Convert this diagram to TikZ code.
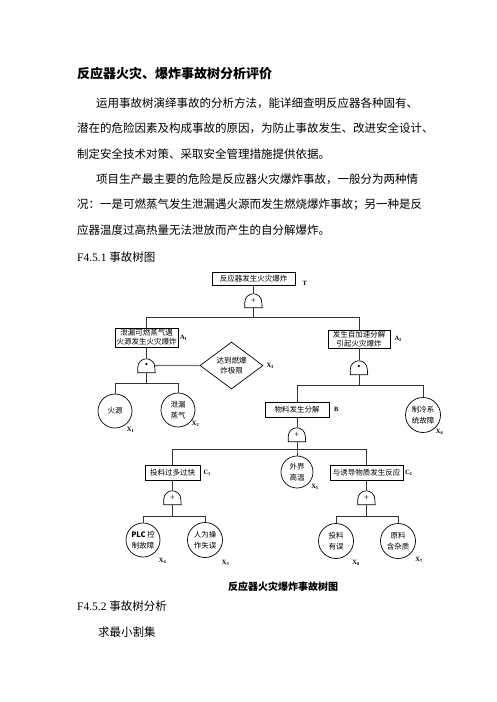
\documentclass[tikz,border=0pt]{standalone}
\usepackage{fontspec}
\setmainfont{Liberation Serif}
\newfontfamily\cjk{Noto Sans CJK SC}
\usetikzlibrary{positioning, shapes.geometric}
\XeTeXlinebreaklocale "zh"
\XeTeXlinebreakskip=0pt plus 2pt minus 1pt
\tikzset{EventBox/.style={%
    shape=rectangle,%
    draw=black,%
    line width=0.7pt,%
    inner sep=1pt,%
    align=center,%
    font=\cjk\fontsize{7.5}{9}\selectfont,%
}}
\tikzset{BasicEvent/.style={%
    shape=circle,%
    draw=black,%
    line width=0.7pt,%
    minimum size=34pt,%
    inner sep=0pt,%
    align=center,%
    font=\cjk\fontsize{7.5}{10.5}\selectfont,%
}}
\tikzset{CondEvent/.style={%
    shape=diamond,%
    draw=black,%
    line width=0.7pt,%
    minimum width=63pt,%
    minimum height=41pt,%
    inner sep=0pt,%
    align=center,%
    font=\cjk\fontsize{7.5}{10}\selectfont,%
}}
\tikzset{GateBox/.style={%
    shape=rectangle,%
    minimum width=17pt,%
    minimum height=14pt,%
    inner sep=0pt,%
    font=\fontsize{9}{9}\selectfont,%
}}
\tikzset{GateLine/.style={%
    draw=black,%
    line width=0.7pt,%
}}
\tikzset{TreeLine/.style={%
    draw=black!80,%
    line width=0.7pt,%
}}
\tikzset{Branch/.style={%
    draw=black!80,%
    line width=0.7pt,%
    to path={(\tikztostart.south) -- ++(0,-#1) -| (\tikztotarget.north)},%
}}
\tikzset{InhibitLine/.style={%
    draw=black!55,%
    line width=1.4pt,%
}}
\tikzset{Tag/.style={%
    inner sep=0pt,%
    font=\fontsize{6.5}{6.5}\selectfont\bfseries,%
}}
\tikzset{TextLine/.style={%
    anchor=west,%
    inner sep=0pt,%
    font=\cjk\fontsize{11.5}{11.5}\selectfont,%
}}
\tikzset{HeadLine/.style={%
    anchor=west,%
    inner sep=0pt,%
    font=\cjk\bfseries\fontsize{13}{13}\selectfont,%
}}
\NewDocumentCommand{\gateNode}{m m m}{%
    \node[GateBox, #2] (#1) {#3};
    \draw[GateLine] (#1.south west) -- ([yshift=5.5pt]#1.south west)
        arc[start angle=180, end angle=0, radius=8.5pt] -- (#1.south east) -- cycle;
}

\begin{document}
\begin{tikzpicture}[x=1pt, y=1pt]
    \useasboundingbox (0,0) rectangle (496,-702);

    % text above the tree
    \node[HeadLine] (title) at (77,-74) {反应器火灾、爆炸事故树分析评价};
    \node[TextLine] (p1a) at (96,-103) {\makebox[326pt][s]{运用事故树演绎事故的分析方法，能详细查明反应器各种固有、}};
    \node[TextLine] (p1b) at (77,-128.5) {\makebox[345pt][s]{潜在的危险因素及构成事故的原因，为防止事故发生、改进安全设计、}};
    \node[TextLine] (p1c) at (77,-154) {制定安全技术对策、采取安全管理措施提供依据。};
    \node[TextLine] (p2a) at (96,-179.5) {\makebox[326pt][s]{项目生产最主要的危险是反应器火灾爆炸事故，一般分为两种情}};
    \node[TextLine] (p2b) at (77,-205) {\makebox[345pt][s]{况：一是可燃蒸气发生泄漏遇火源而发生燃烧爆炸事故；另一种是反}};
    \node[TextLine] (p2c) at (77,-230.5) {应器温度过高热量无法泄放而产生的自分解爆炸。};
    \node[TextLine, font=\fontsize{11.5}{11.5}\selectfont] (sec1) at (77,-257) {F4.5.1 {\cjk 事故树图}};

    % events
    \node[EventBox, minimum width=83pt, minimum height=13pt] (bT) at (253.5,-278.5) {反应器发生火灾爆炸};
    \node[EventBox, minimum width=63pt, minimum height=19pt] (bA1) at (146.5,-337.5) {泄漏可燃蒸气遇\\火源发生火灾爆炸};
    \node[EventBox, minimum width=62pt, minimum height=18pt] (bA2) at (359,-339) {发生自加速分解\\引起火灾爆炸};
    \node[CondEvent] (dX3) at (231.5,-365.5) {达到燃爆\\炸极限};
    \node[BasicEvent] (x1) at (115,-411) {火源};
    \node[BasicEvent] (x2) at (178,-410) {泄漏\\蒸气};
    \node[EventBox, minimum width=64pt, minimum height=15pt] (bB) at (297,-409.5) {物料发生分解};
    \node[BasicEvent, minimum size=35pt] (x6) at (423,-415) {制冷系\\统故障};
    \node[EventBox, minimum width=55pt, minimum height=15pt] (bC1) at (172.5,-472.5) {投料过多过快};
    \node[BasicEvent, minimum size=32pt] (x5) at (297,-472) {外界\\高温};
    \node[EventBox, minimum width=73pt, minimum height=15pt] (bC2) at (366.5,-472.5) {与诱导物质发生反应};
    \node[BasicEvent] (x4) at (143,-540) {{\fontsize{7.5}{10.5}\bfseries PLC} 控\\制故障};
    \node[BasicEvent, minimum size=35pt] (x3b) at (205,-540) {人为操\\作失误};
    \node[BasicEvent, minimum size=35pt] (x8) at (336,-541) {投料\\有误};
    \node[BasicEvent, minimum size=35pt] (x7) at (398,-541) {原料\\含杂质};

    % gates
    \gateNode{gT}{below=8pt of bT}{+}
    \gateNode{gA1}{below=11pt of bA1}{\textbullet}
    \gateNode{gA2}{below=12pt of bA2}{\textbullet}
    \gateNode{gB}{below=10pt of bB}{+}
    \gateNode{gC1}{below=10pt of bC1}{+}
    \gateNode{gC2}{below=10pt of bC2}{+}

    % tags
    \node[Tag, right=7pt of bT.south east, yshift=2pt] (tT) {T};
    \node[Tag, right=1.5pt of bA1] (tA1) {A\textsubscript{1}};
    \node[Tag, right=4pt of bA2] (tA2) {A\textsubscript{2}};
    \node[Tag, right=3pt of dX3] (tX3) {X\textsubscript{3}};
    \node[Tag, below right=4pt and -0.5pt of x1] (tX1) {X\textsubscript{1}};
    \node[Tag, below right=-1pt and 1.5pt of x2] (tX2) {X\textsubscript{2}};
    \node[Tag, right=4.5pt of bB] (tB) {B};
    \node[Tag, below right=1.5pt and 0pt of x6] (tX6) {X\textsubscript{6}};
    \node[Tag, right=3pt of bC1] (tC1) {C\textsubscript{1}};
    \node[Tag, below right=0pt and 2.5pt of x5] (tX5) {X\textsubscript{5}};
    \node[Tag, right=1.5pt of bC2] (tC2) {C\textsubscript{2}};
    \node[Tag, below right=6pt and 3.5pt of x4] (tX4) {X\textsubscript{4}};
    \node[Tag, below right=7pt and 4pt of x3b] (tX3b) {X\textsubscript{3}};
    \node[Tag, below right=6pt and 3.5pt of x8] (tX8) {X\textsubscript{8}};
    \node[Tag, below right=3.5pt and 4.5pt of x7] (tX7) {X\textsubscript{7}};

    % connectors
    \path (bT) edge[TreeLine] (gT);
    \path (gT) edge[Branch=10] (bA1);
    \path (gT) edge[Branch=10] (bA2);
    \path (bA1) edge[TreeLine] (gA1);
    \path (gA1) edge[InhibitLine] (dX3);
    \path (gA1) edge[Branch=11] (x1);
    \path (gA1) edge[Branch=11] (x2);
    \path (bA2) edge[TreeLine] (gA2);
    \path (gA2) edge[Branch=11] (bB);
    \path (gA2) edge[Branch=11] (x6);
    \path (bB) edge[TreeLine] (gB);
    \path (gB) edge[Branch=8] (bC1);
    \path (gB) edge[Branch=8] (x5);
    \path (gB) edge[Branch=8] (bC2);
    \path (bC1) edge[TreeLine] (gC1);
    \path (gC1) edge[Branch=12] (x4);
    \path (gC1) edge[Branch=12] (x3b);
    \path (bC2) edge[TreeLine] (gC2);
    \path (gC2) edge[Branch=12] (x8);
    \path (gC2) edge[Branch=12] (x7);

    % text below the tree
    \node[anchor=center, inner sep=0pt, font=\cjk\bfseries\fontsize{10}{10}\selectfont] (cap) at (283,-587) {反应器火灾爆炸事故树图};
    \node[TextLine, font=\fontsize{11.5}{11.5}\selectfont] (sec2) at (77,-606) {F4.5.2 {\cjk 事故树分析}};
    \node[TextLine] (p3) at (98,-632) {求最小割集};
\end{tikzpicture}
\end{document}
